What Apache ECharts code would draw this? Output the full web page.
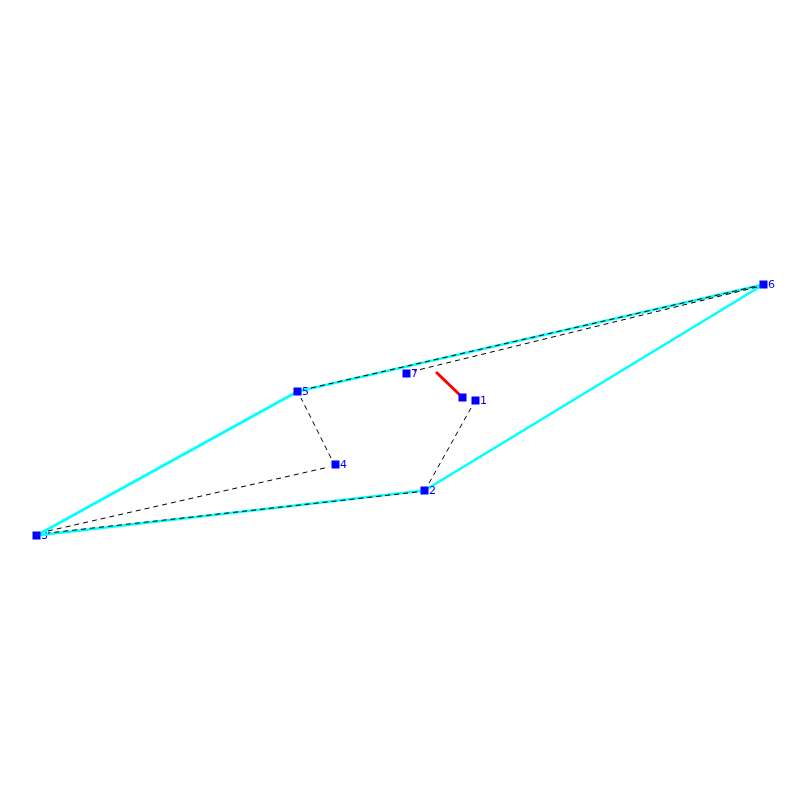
<!DOCTYPE html>
<html>
<head>
<meta charset="utf-8">
<title>graph</title>
<script src="https://cdn.jsdelivr.net/npm/echarts@6/dist/echarts.min.js"></script>
<style>
html, body { margin: 0; padding: 0; background: #fff; }
#chart { width: 800px; height: 800px; }
</style>
</head>
<body>
<div id="chart"></div>
<script>
// node positions
var nodeLabels = ['1', '2', '3', '4', '5', '6', '7'];
var nodeX = [475.5, 424.5, 36.5, 335.5, 297.5, 763.5, 406.5];
var nodeY = [400.5, 490.5, 535.5, 464.5, 391.5, 284.5, 373.5];

// thick cyan ring, as node numbers
var ringOrder = [3, 5, 6, 2, 3];

// dashed edges stop short of the nodes
var dashedEdges = [
    [[471, 408], [428, 485]],
    [[417, 492], [48, 533]],
    [[48, 531], [329, 467]],
    [[331, 458], [301, 398]],
    [[311, 388], [757, 286]],
    [[757, 287], [414, 371]]
];

// red stub and its end marker
var redLine = [[436, 372], [462.5, 397.5]];

var chart = echarts.init(document.getElementById('chart'));

var nodeData = nodeX.map(function (x, i) { return [x, nodeY[i], nodeLabels[i]]; });
var ringData = ringOrder.map(function (n) { return [nodeX[n - 1], nodeY[n - 1]]; });

function labelSeries(z, data) {
    return {
        type: 'scatter',
        z: z,
        symbolSize: 1,
        itemStyle: { color: 'rgba(0,0,0,0)', opacity: 1 },
        data: data,
        label: {
            show: true,
            position: 'right',
            distance: 4,
            offset: [0, 1],
            color: '#0000ff',
            textBorderWidth: 0,
            fontFamily: 'DejaVu Sans',
            fontSize: 11,
            formatter: function (p) { return p.value[2]; }
        }
    };
}

var series = [
    // label 3 sits under the cyan lines, the others on top
    labelSeries(1, nodeData.filter(function (d) { return d[2] === '3'; })),
    labelSeries(6, nodeData.filter(function (d) { return d[2] !== '3'; })),
    {
        type: 'line',
        z: 2,
        showSymbol: false,
        data: ringData,
        lineStyle: { color: '#00ffff', width: 2.6, opacity: 1 }
    },
    {
        type: 'line',
        z: 3,
        showSymbol: false,
        data: redLine,
        lineStyle: { color: '#ff0000', width: 3, opacity: 1 }
    },
    {
        type: 'scatter',
        z: 5,
        symbol: 'rect',
        symbolSize: 8,
        itemStyle: { color: '#0000ff', opacity: 1 },
        data: nodeData.concat([redLine[1]])
    }
];

dashedEdges.forEach(function (edge) {
    series.push({
        type: 'line',
        z: 4,
        showSymbol: false,
        data: edge,
        lineStyle: { color: '#000000', width: 1, type: [5, 4], opacity: 1 }
    });
});

chart.setOption({
    animation: false,
    backgroundColor: '#ffffff',
    grid: { left: 0, right: 0, top: 0, bottom: 0 },
    xAxis: { type: 'value', min: 0, max: 800, show: false },
    yAxis: { type: 'value', min: 0, max: 800, inverse: true, show: false },
    series: series
});
</script>
</body>
</html>
